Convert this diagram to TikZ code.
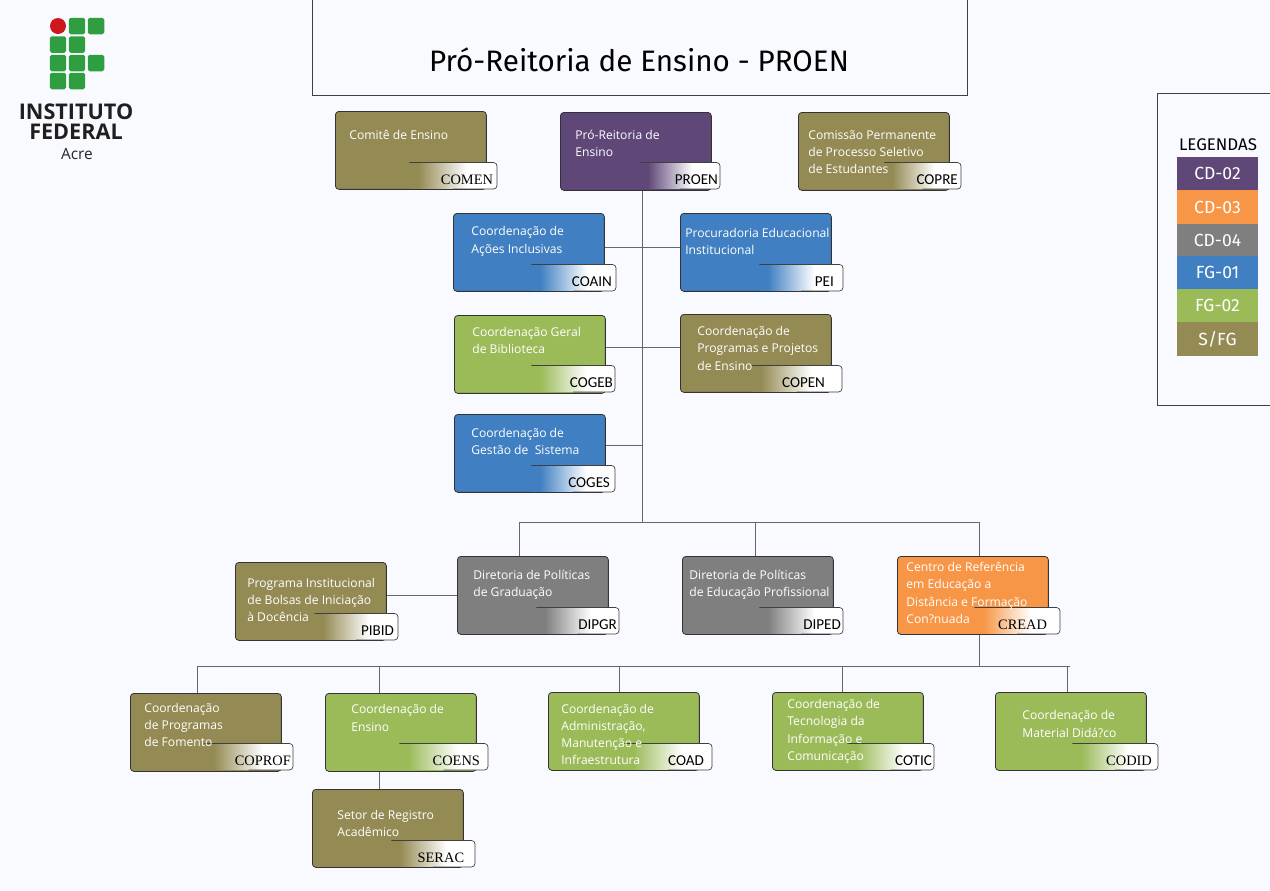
\documentclass[tikz,border=0pt]{standalone}
\usepackage{fontspec}
\setmainfont{Open Sans}
\newfontfamily\titlefont{Fira Sans}
\newfontfamily\tagsans{Carlito}
\newfontfamily\tagroman{Liberation Serif}
\definecolor{pagebg}{HTML}{F9FAFF}
\definecolor{cdpurple}{HTML}{5F4778}
\definecolor{cdorange}{HTML}{F79646}
\definecolor{cdgray}{HTML}{7F7F7F}
\definecolor{fgblue}{HTML}{4080C2}
\definecolor{fggreen}{HTML}{9BBB59}
\definecolor{sfgolive}{HTML}{948A54}
\definecolor{logogreen}{HTML}{2F9E41}
\definecolor{logored}{HTML}{CD191E}
\colorlet{tagcolor}{cdgray}
\pgfdeclarehorizontalshading[tagcolor]{tagfade}{100bp}{color(0bp)=(tagcolor);color(30bp)=(tagcolor);color(58bp)=(white);color(100bp)=(white)}
\tikzset{
  orgbox/.style={draw=black!80,line width=.45pt,rounded corners=2pt,anchor=north west,
    minimum width=3.02cm,minimum height=1.56cm,inner sep=0pt},
  boxtext/.style={text=white,anchor=west,align=left,inner sep=0pt,yshift=-.5pt,
    font=\fontsize{6.9pt}{9.8pt}\selectfont},
  tagbox/.style 2 args={/utils/exec={\colorlet{tagcolor}{#1}},shade,shading=tagfade,anchor=south east,
    text width=#2*0.02cm-2pt,inner xsep=1pt,inner ysep=2.6pt,text height=9.5pt,text depth=0pt,
    align=right,text=black},
  tagsf/.style={font=\tagsans\fontsize{8.6pt}{9pt}\selectfont},
  tagrm/.style={font=\tagroman\fontsize{8.2pt}{9pt}\selectfont},
  tagline/.style={draw=black!75,line width=.4pt},
  link/.style={draw=black!60,line width=.4pt},
  frameline/.style={draw=black!75,line width=.4pt},
  legitem/.style={minimum width=1.62cm,inner sep=0pt,text=white,
    font=\titlefont\fontsize{10pt}{11pt}\selectfont},
  logosq/.style={fill=logogreen,rounded corners=1pt,minimum size=.33cm,inner sep=0pt},
}
\begin{document}
\begin{tikzpicture}[x=0.02cm,y=-0.02cm]
  \path[use as bounding box,fill=pagebg] (0,0) rectangle (1270,890);

  % logo
  \node[fill=logored,circle,minimum size=.32cm,inner sep=0pt] (logoA) at (58,26) {};
  \node[logosq] (logoB) at (77,26) {};
  \node[logosq] (logoC) at (96,26) {};
  \node[logosq] (logoD) at (58,44.5) {};
  \node[logosq] (logoE) at (77,44.5) {};
  \node[logosq] (logoF) at (58,63) {};
  \node[logosq] (logoG) at (77,63) {};
  \node[logosq] (logoH) at (96,63) {};
  \node[logosq] (logoI) at (58,81) {};
  \node[logosq] (logoJ) at (77,81) {};
  \node[font=\bfseries\fontsize{12.3pt}{13pt}\selectfont,text=black!88,inner sep=0pt] (logoTa) at (76,111.5) {INSTITUTO};
  \node[font=\bfseries\fontsize{12.3pt}{13pt}\selectfont,text=black!88,inner sep=0pt] (logoTb) at (76,131.5) {FEDERAL};
  \node[font=\fontsize{8.8pt}{10pt}\selectfont,text=black!85,inner sep=0pt] (logoTc) at (77,154) {Acre};

  % title
  \draw[frameline] (312,0) -- (312,95) -- (967,95) -- (967,0);
  \node[font=\titlefont\fontsize{16.85pt}{20pt}\selectfont,inner sep=0pt] (title) at (639,60) {Pró-Reitoria de Ensino - PROEN};

  % legend
  \draw[frameline] (1270,93) -- (1157,93) -- (1157,405) -- (1270,405);
  \node[font=\titlefont\fontsize{9.6pt}{11pt}\selectfont,inner sep=0pt] (legT) at (1218,145) {LEGENDAS};
  \node[legitem,fill=cdpurple,minimum height=.66cm] (legA) at (1217.5,173.5) {CD-02};
  \node[legitem,fill=cdorange,minimum height=.68cm] (legB) at (1217.5,207) {CD-03};
  \node[legitem,fill=cdgray,minimum height=.64cm] (legC) at (1217.5,240) {CD-04};
  \node[legitem,fill=fgblue,minimum height=.66cm] (legD) at (1217.5,272.5) {FG-01};
  \node[legitem,fill=fggreen,minimum height=.66cm] (legE) at (1217.5,305.5) {FG-02};
  \node[legitem,fill=sfgolive,minimum height=.68cm] (legF) at (1217.5,339) {S/FG};

  % boxes and their tags
  \node[orgbox,fill=sfgolive] (comen) at (335,111) {};
  \node[tagbox={sfgolive}{87},tagrm] (comenTag) at (497,189) {COMEN\hspace*{1.1pt}};
  \node[orgbox,fill=cdpurple] (proen) at (560,112) {};
  \node[tagbox={cdpurple}{80},tagsf] (proenTag) at (720,189) {PROEN};
  \node[orgbox,fill=sfgolive] (copre) at (798,112) {};
  \node[tagbox={sfgolive}{76},tagsf] (copreTag) at (961,189) {COPRE\hspace*{.6pt}};

  \node[orgbox,fill=fgblue] (coain) at (453,213) {};
  \node[tagbox={fgblue}{84},tagsf] (coainTag) at (616,291) {COAIN\hspace*{1.1pt}};
  \node[orgbox,fill=fgblue] (pei) at (680,213) {};
  \node[tagbox={fgblue}{83},tagsf] (peiTag) at (843,291) {PEI\hspace*{4pt}};
  \node[orgbox,fill=fggreen] (cogeb) at (454,315) {};
  \node[tagbox={fggreen}{83},tagsf] (cogebTag) at (615,392) {COGEB};
  \node[orgbox,fill=sfgolive] (copen) at (680,314) {};
  \node[tagbox={sfgolive}{90},tagsf] (copenTag) at (842,392) {COPEN\hspace*{8.5pt}};
  \node[orgbox,fill=fgblue] (coges) at (454,414) {};
  \node[tagbox={fgblue}{83},tagsf] (cogesTag) at (615,492) {COGES\hspace*{1.7pt}};

  \node[orgbox,fill=sfgolive] (pibid) at (235,562) {};
  \node[tagbox={sfgolive}{83},tagsf] (pibidTag) at (398,640) {PIBID\hspace*{1.1pt}};
  \node[orgbox,fill=cdgray] (dipgr) at (457,556) {};
  \node[tagbox={cdgray}{82},tagsf] (dipgrTag) at (619,634) {DIPGR};
  \node[orgbox,fill=cdgray] (diped) at (682,556) {};
  \node[tagbox={cdgray}{83},tagsf] (dipedTag) at (843,634) {DIPED};
  \node[orgbox,fill=cdorange] (cread) at (897,556) {};
  \node[tagbox={cdorange}{85},tagrm] (creadTag) at (1060,634) {CREAD\hspace*{6.2pt}};

  \node[orgbox,fill=sfgolive] (coprof) at (130,693) {};
  \node[tagbox={sfgolive}{88},tagrm] (coprofTag) at (293,770) {COPROF};
  \node[orgbox,fill=fggreen] (coens) at (325,693) {};
  \node[tagbox={fggreen}{88},tagrm] (coensTag) at (488,770) {COENS\hspace*{3.4pt}};
  \node[orgbox,fill=fggreen] (coad) at (548,692) {};
  \node[tagbox={fggreen}{87},tagsf] (coadTag) at (712,770) {COAD\hspace*{3.4pt}};
  \node[orgbox,fill=fggreen] (cotic) at (772,692) {};
  \node[tagbox={fggreen}{86},tagsf] (coticTag) at (934,770) {COTIC};
  \node[orgbox,fill=fggreen] (codid) at (995,692) {};
  \node[tagbox={fggreen}{85},tagrm] (codidTag) at (1158,770) {CODID\hspace*{2.3pt}};
  \node[orgbox,fill=sfgolive] (serac) at (312,789) {};
  \node[tagbox={sfgolive}{83},tagrm] (seracTag) at (475,867) {SERAC\hspace*{5pt}};

  \foreach \t in {comen,proen,copre,coain,pei,cogeb,copen,coges,pibid,dipgr,diped,cread,coprof,coens,coad,cotic,codid,serac}
    \draw[tagline,rounded corners=2pt] (\t Tag.north west) -- (\t Tag.north east) -- (\t Tag.south east) [sharp corners] -- (\t Tag.south);

  % box texts
  \node[boxtext] (comenText) at (349,134) {Comitê de Ensino};
  \node[boxtext] (proenText) at (575,142.5) {Pró-Reitoria de\\Ensino};
  \node[boxtext] (copreText) at (808,151) {Comissão Permanente\\de Processo Seletivo\\de Estudantes};
  \node[boxtext] (coainText) at (471,240.5) {Coordenação de\\Ações Inclusivas};
  \node[boxtext] (peiText) at (685,240.5) {Procuradoria Educacional\\Institucional};
  \node[boxtext] (cogebText) at (472,339.5) {Coordenação Geral\\de Biblioteca};
  \node[boxtext] (copenText) at (697,347.5) {Coordenação de\\Programas e Projetos\\de Ensino};
  \node[boxtext] (cogesText) at (471,440.5) {Coordenação de\\Gestão de\ \ Sistema};
  \node[boxtext] (pibidText) at (247,599) {Programa Institucional\\de Bolsas de Iniciação\\à Docência};
  \node[boxtext] (dipgrText) at (473,584) {Diretoria de Políticas\\de Graduação};
  \node[boxtext] (dipedText) at (689,584) {Diretoria de Políticas\\de Educação Profissional};
  \node[boxtext] (creadText) at (906,592) {Centro de Referência\\em Educação a\\Distância e Formação\\Con?nuada};
  \node[boxtext] (coprofText) at (144,724) {Coordenação\\de Programas\\de Fomento};
  \node[boxtext] (coensText) at (351,717) {Coordenação de\\Ensino};
  \node[boxtext] (coadText) at (561,733.5) {Coordenação de\\Administração,\\Manutenção e\\Infraestrutura};
  \node[boxtext] (coticText) at (787,730.5) {Coordenação de\\Tecnologia da\\Informação e\\Comunicação};
  \node[boxtext] (codidText) at (1022,723) {Coordenação de\\Material Didá?co};
  \node[boxtext] (seracText) at (337,822.5) {Setor de Registro\\Acadêmico};

  % connectors
  \coordinate (trunkA) at (642,247);
  \coordinate (trunkB) at (642,347);
  \coordinate (trunkC) at (642,445);
  \coordinate (trunkD) at (642,522);
  \coordinate (busAl) at (519,522);
  \coordinate (busAm) at (755,522);
  \coordinate (busAr) at (979,522);
  \coordinate (sideA) at (420,595);
  \coordinate (busBa) at (197,666);
  \coordinate (busBb) at (379,666);
  \coordinate (busBc) at (619,666);
  \coordinate (busBd) at (842,666);
  \coordinate (busBe) at (979,666);
  \coordinate (busBf) at (1067,666);
  \coordinate (busBg) at (1070,666);
  \draw[link] (trunkA |- proen.south) -- (trunkD);
  \draw[link] (coain.east |- trunkA) -- (pei.west |- trunkA);
  \draw[link] (cogeb.east |- trunkB) -- (copen.west |- trunkB);
  \draw[link] (coges.east |- trunkC) -- (trunkC);
  \draw[link] (busAl) -- (busAr);
  \draw[link] (busAl) -- (busAl |- dipgr.north);
  \draw[link] (busAm) -- (busAm |- diped.north);
  \draw[link] (busAr) -- (busAr |- cread.north);
  \draw[link] (pibid.east |- sideA) -- (dipgr.west |- sideA);
  \draw[link] (busBe |- cread.south) -- (busBe);
  \draw[link] (busBa) -- (busBg);
  \draw[link] (busBa) -- (busBa |- coprof.north);
  \draw[link] (busBb) -- (busBb |- coens.north);
  \draw[link] (busBc) -- (busBc |- coad.north);
  \draw[link] (busBd) -- (busBd |- cotic.north);
  \draw[link] (busBf) -- (busBf |- codid.north);
  \draw[link] (busBb |- coens.south) -- (busBb |- serac.north);
\end{tikzpicture}
\end{document}
